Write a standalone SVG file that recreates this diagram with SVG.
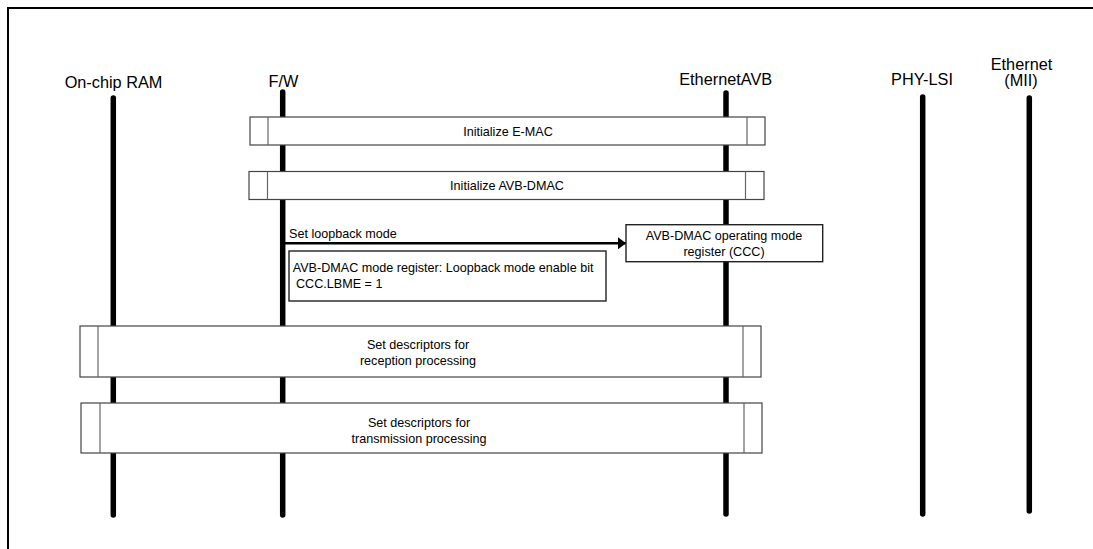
<svg xmlns="http://www.w3.org/2000/svg" width="1093" height="549" viewBox="0 0 1093 549">
<style>
text{font-family:"Liberation Sans",Arial,sans-serif;fill:#000}
.lbl{font-size:16.3px;text-anchor:middle}
.t{font-size:12.6px}
.c{text-anchor:middle}
.life{stroke:#000;stroke-width:5.5;stroke-linecap:round;fill:none}
.bar{fill:#fff;stroke:#444;stroke-width:1.2}
.div{stroke:#666;stroke-width:1.2;fill:none}
.box{fill:#fff;stroke:#222;stroke-width:1.4}
</style>
<defs>
<marker id="ah" markerWidth="8" markerHeight="12" refX="8" refY="6" orient="auto" markerUnits="userSpaceOnUse">
<path d="M0,0 L8,6 L0,12 Z" fill="#000"/>
</marker>
</defs>
<rect width="1093" height="549" fill="#fff"/>
<path d="M8,549 V8 H1093" fill="none" stroke="#000" stroke-width="2"/>

<g id="lifeline-ram"><text class="lbl" x="113.5" y="88">On-chip RAM</text><line class="life" x1="113.3" y1="98" x2="113.3" y2="515"/></g>
<g id="lifeline-fw"><text class="lbl" x="283.5" y="87">F/W</text><line class="life" x1="282.7" y1="92" x2="282.7" y2="515"/></g>
<g id="lifeline-avb"><text class="lbl" x="725.7" y="85">EthernetAVB</text><line class="life" x1="726" y1="93" x2="726" y2="514"/></g>
<g id="lifeline-phy"><text class="lbl" x="922" y="85">PHY-LSI</text><line class="life" x1="922.7" y1="97" x2="922.7" y2="514"/></g>
<g id="lifeline-eth"><text class="lbl" x="1021.5" y="70">Ethernet</text><text class="lbl" x="1021" y="86">(MII)</text><line class="life" x1="1029.3" y1="98" x2="1029.3" y2="511"/></g>

<g id="init-emac"><rect class="bar" x="250" y="117" width="515" height="28"/><line class="div" x1="268" y1="117" x2="268" y2="145"/><line class="div" x1="747" y1="117" x2="747" y2="145"/><text class="t c" x="508" y="135.5">Initialize E-MAC</text></g>
<g id="init-avbdmac"><rect class="bar" x="249" y="171.5" width="515" height="28"/><line class="div" x1="267.5" y1="171.5" x2="267.5" y2="199.5"/><line class="div" x1="745.5" y1="171.5" x2="745.5" y2="199.5"/><text class="t c" x="507" y="190">Initialize AVB-DMAC</text></g>

<g id="connectors"><line x1="283" y1="243.3" x2="626" y2="243.3" stroke="#000" stroke-width="2.4" marker-end="url(#ah)"/><text class="t" x="289" y="237.5">Set loopback mode</text></g>

<g id="ccc-register"><rect class="box" x="626" y="224.7" width="196.7" height="37"/><text class="t c" x="724" y="239.5">AVB-DMAC operating mode</text><text class="t c" x="724" y="255.5">register (CCC)</text></g>
<g id="note-lbme"><rect class="box" x="289" y="251" width="317" height="50"/><text class="t" x="292.7" y="272">AVB-DMAC mode register: Loopback mode enable bit</text><text class="t" x="296" y="288">CCC.LBME = 1</text></g>

<g id="rx-desc"><rect class="bar" x="80" y="326" width="681" height="51"/><line class="div" x1="98" y1="326" x2="98" y2="377"/><line class="div" x1="743" y1="326" x2="743" y2="377"/><text class="t c" x="418" y="349">Set descriptors for</text><text class="t c" x="418" y="365">reception processing</text></g>
<g id="tx-desc"><rect class="bar" x="81" y="403" width="681" height="50"/><line class="div" x1="100" y1="403" x2="100" y2="453"/><line class="div" x1="744" y1="403" x2="744" y2="453"/><text class="t c" x="419" y="426.5">Set descriptors for</text><text class="t c" x="419" y="442.5">transmission processing</text></g>
</svg>
